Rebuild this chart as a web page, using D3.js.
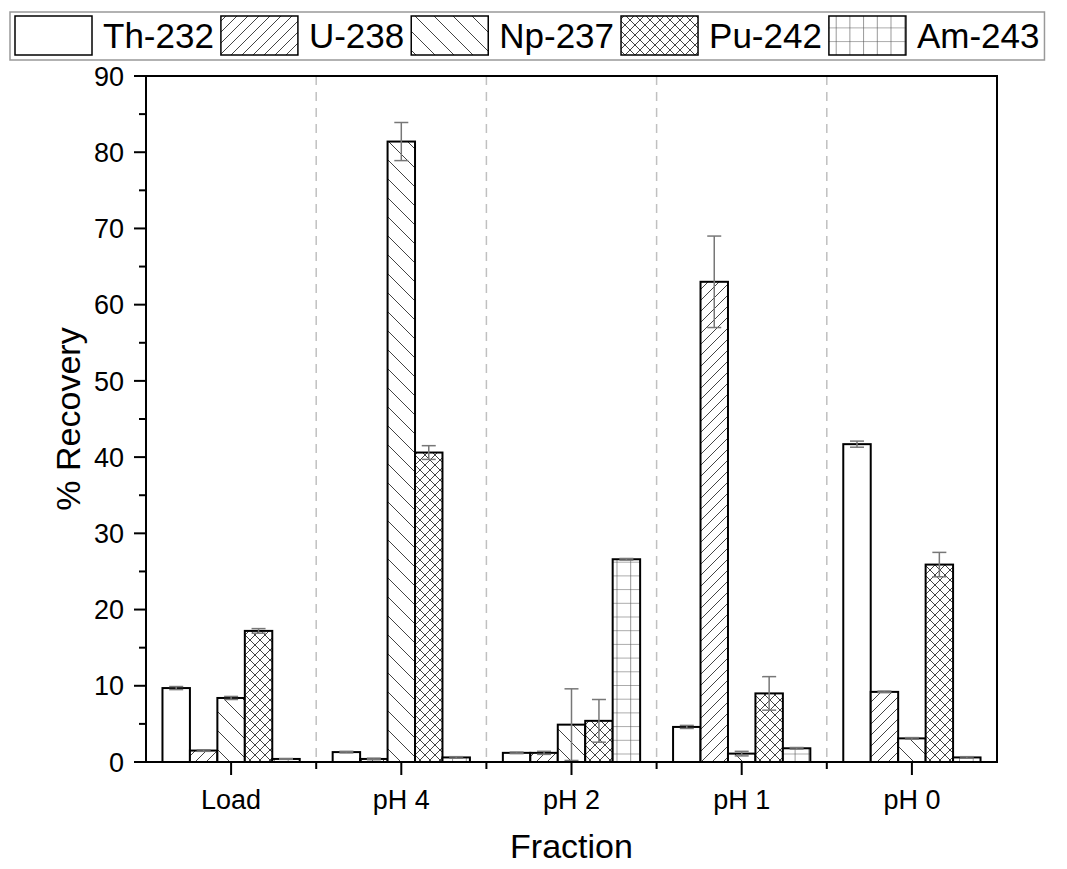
<!DOCTYPE html>
<html>
<head>
<meta charset="utf-8">
<script src="https://cdn.jsdelivr.net/npm/d3@7"></script>
<style>
  body { margin: 0; background: #fff; }
  text { font-family: "Liberation Sans", Arial, sans-serif; fill: #000; }
</style>
</head>
<body>
<svg id="chart" width="1067" height="869"></svg>
<script>
// Data
var fractions = ["Load", "pH 4", "pH 2", "pH 1", "pH 0"];
var isotopes = ["Th-232", "U-238", "Np-237", "Pu-242", "Am-243"];
var th232 = [9.7, 1.3, 1.2, 4.6, 41.7];
var u238 = [1.5, 0.4, 1.2, 63.0, 9.2];
var np237 = [8.4, 81.4, 4.9, 1.1, 3.1];
var pu242 = [17.2, 40.6, 5.4, 9.0, 25.9];
var am243 = [0.4, 0.6, 26.6, 1.8, 0.6];
var th232Err = [0.2, 0.1, 0.1, 0.2, 0.4];
var u238Err = [0.1, 0.1, 0.2, 6.0, 0.1];
var np237Err = [0.2, 2.5, 4.7, 0.3, 0.1];
var pu242Err = [0.3, 0.9, 2.8, 2.2, 1.6];
var am243Err = [0.05, 0.1, 0.1, 0.1, 0.1];
var yTicks = [0, 10, 20, 30, 40, 50, 60, 70, 80, 90];

var values = [th232, u238, np237, pu242, am243];
var errors = [th232Err, u238Err, np237Err, pu242Err, am243Err];
var patternIds = ["p-none", "p-fwd", "p-back", "p-cross", "p-grid"];

// Dimensions
var margin = {left: 146, right: 70, top: 76, bottom: 107};
var width = 1067, height = 869;
var svg = d3.select("#chart");

var x = d3.scaleBand().domain(fractions)
    .range([margin.left, width - margin.right]).padding(0);
var xInner = d3.scaleBand().domain(isotopes)
    .range([0, x.bandwidth()]).paddingInner(0).paddingOuter(0.6);
var y = d3.scaleLinear().domain([0, 90]).range([height - margin.bottom, margin.top]);

// Patterns
var defs = svg.append("defs");
var hatchColor = "#444";

defs.append("pattern").attr("id", "p-fwd").attr("patternUnits", "userSpaceOnUse")
    .attr("width", 11).attr("height", 11)
    .append("path").attr("d", "M-1,12 L12,-1 M-3,3 L3,-3 M8,14 L14,8")
    .attr("stroke", hatchColor).attr("stroke-width", 1);

defs.append("pattern").attr("id", "p-back").attr("patternUnits", "userSpaceOnUse")
    .attr("width", 19).attr("height", 19)
    .append("path").attr("d", "M-1,-1 L20,20 M-3,16 L3,22 M16,-3 L22,3")
    .attr("stroke", hatchColor).attr("stroke-width", 1);

var pc = defs.append("pattern").attr("id", "p-cross").attr("patternUnits", "userSpaceOnUse")
    .attr("width", 10).attr("height", 10);
pc.append("path").attr("d", "M-1,-1 L11,11 M-1,11 L11,-1")
    .attr("stroke", hatchColor).attr("stroke-width", 1);

var pg = defs.append("pattern").attr("id", "p-grid").attr("patternUnits", "userSpaceOnUse")
    .attr("width", 13.7).attr("height", 13.7);
pg.append("path").attr("d", "M0,0 L13.7,0 M0,0 L0,13.7")
    .attr("stroke", "#555").attr("stroke-width", 1.2);

function fillFor(i) {
    return i === 0 ? "#fff" : "url(#" + patternIds[i] + ")";
}

// Dashed separators
var seps = fractions.slice(1);
svg.append("g").selectAll("line").data(seps).enter().append("line")
    .attr("x1", function(d) { return x(d); })
    .attr("x2", function(d) { return x(d); })
    .attr("y1", y(90)).attr("y2", y(0))
    .attr("stroke", "#c0c0c0").attr("stroke-width", 1.5)
    .attr("stroke-dasharray", "9,7");

// Bars
var groups = svg.append("g").selectAll("g").data(isotopes).enter().append("g");
groups.each(function(iso, i) {
    var g = d3.select(this);
    var bx = function(d, j) { return x(fractions[j]) + xInner(iso); };
    g.selectAll("rect.bg").data(values[i]).enter().append("rect")
        .attr("x", bx).attr("y", function(d) { return y(d); })
        .attr("width", xInner.bandwidth())
        .attr("height", function(d) { return y(0) - y(d); })
        .attr("fill", "#fff");
    g.selectAll("rect.fg").data(values[i]).enter().append("rect")
        .attr("x", bx).attr("y", function(d) { return y(d); })
        .attr("width", xInner.bandwidth())
        .attr("height", function(d) { return y(0) - y(d); })
        .attr("fill", fillFor(i))
        .attr("stroke", "#000").attr("stroke-width", 2);
});

// Error bars
groups.each(function(iso, i) {
    var g = d3.select(this);
    var cx = function(j) { return x(fractions[j]) + xInner(iso) + xInner.bandwidth() / 2; };
    values[i].forEach(function(v, j) {
        var e = errors[i][j];
        var eg = g.append("g").attr("stroke", "#777").attr("stroke-width", 1.5);
        eg.append("line").attr("x1", cx(j)).attr("x2", cx(j))
            .attr("y1", y(v - e)).attr("y2", y(v + e));
        [v - e, v + e].forEach(function(t) {
            eg.append("line").attr("x1", cx(j) - 7).attr("x2", cx(j) + 7)
                .attr("y1", y(t)).attr("y2", y(t));
        });
    });
});

// Axes
var axisG = svg.append("g");
axisG.append("rect")
    .attr("x", margin.left).attr("y", margin.top)
    .attr("width", width - margin.right - margin.left)
    .attr("height", height - margin.bottom - margin.top)
    .attr("fill", "none").attr("stroke", "#000").attr("stroke-width", 2);

// y ticks
var yMinor = d3.range(5, 90, 10);
axisG.selectAll("line.ymaj").data(yTicks).enter().append("line")
    .attr("x1", margin.left - 12).attr("x2", margin.left)
    .attr("y1", function(d) { return y(d); }).attr("y2", function(d) { return y(d); })
    .attr("stroke", "#000").attr("stroke-width", 2);
axisG.selectAll("line.ymin").data(yMinor).enter().append("line")
    .attr("x1", margin.left - 7).attr("x2", margin.left)
    .attr("y1", function(d) { return y(d); }).attr("y2", function(d) { return y(d); })
    .attr("stroke", "#000").attr("stroke-width", 2);
axisG.selectAll("text.ylab").data(yTicks).enter().append("text")
    .attr("x", margin.left - 22).attr("y", function(d) { return y(d); })
    .attr("dy", "0.36em").attr("text-anchor", "end")
    .style("font-size", "27px")
    .text(function(d) { return d; });

// x ticks
axisG.selectAll("line.xmaj").data(fractions).enter().append("line")
    .attr("x1", function(d) { return x(d) + x.bandwidth() / 2; })
    .attr("x2", function(d) { return x(d) + x.bandwidth() / 2; })
    .attr("y1", y(0)).attr("y2", y(0) + 13)
    .attr("stroke", "#000").attr("stroke-width", 2);
axisG.selectAll("line.xmin").data(seps).enter().append("line")
    .attr("x1", function(d) { return x(d); })
    .attr("x2", function(d) { return x(d); })
    .attr("y1", y(0)).attr("y2", y(0) + 7)
    .attr("stroke", "#000").attr("stroke-width", 2);
axisG.selectAll("text.xlab").data(fractions).enter().append("text")
    .attr("x", function(d) { return x(d) + x.bandwidth() / 2; })
    .attr("y", y(0) + 47)
    .attr("text-anchor", "middle")
    .style("font-size", "27px")
    .text(function(d) { return d; });

// Axis titles
svg.append("text")
    .attr("x", (margin.left + width - margin.right) / 2)
    .attr("y", 858)
    .attr("text-anchor", "middle")
    .style("font-size", "34px")
    .text("Fraction");
svg.append("text")
    .attr("transform", "translate(80," + ((margin.top + height - margin.bottom) / 2) + ") rotate(-90)")
    .attr("text-anchor", "middle")
    .style("font-size", "34px")
    .text("% Recovery");

// Legend
var legend = svg.append("g");
var legendBox = legend.append("rect")
    .attr("x", 10).attr("y", 12).attr("height", 48)
    .attr("fill", "#fff").attr("stroke", "#999").attr("stroke-width", 1.5);
var lx = 15;
isotopes.forEach(function(iso, i) {
    legend.append("rect").attr("x", lx).attr("y", 16).attr("width", 77).attr("height", 39)
        .attr("fill", "#fff");
    legend.append("rect").attr("x", lx).attr("y", 16).attr("width", 77).attr("height", 39)
        .attr("fill", fillFor(i)).attr("stroke", "#000").attr("stroke-width", 1.5);
    var t = legend.append("text").attr("x", lx + 88).attr("y", 48)
        .style("font-size", "35px").text(iso);
    lx = lx + 88 + t.node().getComputedTextLength() + 7;
});
legendBox.attr("width", lx - 10 - 2);
</script>
</body>
</html>
